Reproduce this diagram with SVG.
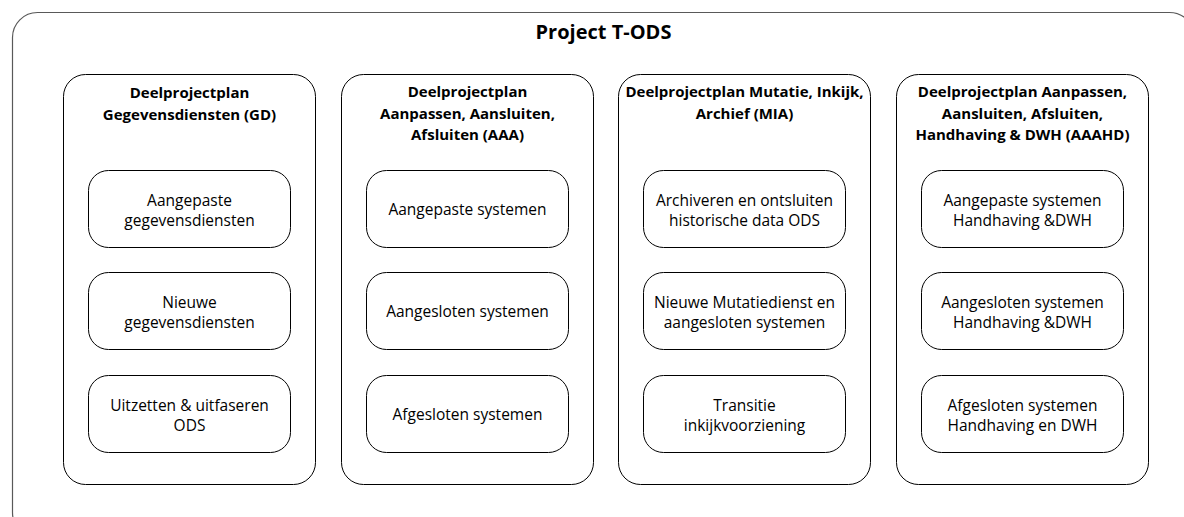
<svg xmlns="http://www.w3.org/2000/svg" width="1184" height="517" viewBox="0 0 1184 517">
<style>
.frame{fill:#fff;stroke:#595959;stroke-width:1.2}
.col{fill:#fff;stroke:#000;stroke-width:1}
.node{fill:#fff;stroke:#000;stroke-width:1}
.title{font-family:"Open Sans","Liberation Sans",sans-serif;font-weight:bold;font-size:20px;fill:#000;text-anchor:middle}
.hdr{font-family:"Open Sans","Liberation Sans",sans-serif;font-weight:bold;font-size:15px;fill:#000;text-anchor:middle}
.lbl{font-family:"Open Sans","Liberation Sans",sans-serif;font-size:15.5px;fill:#000;text-anchor:middle}
</style>
<rect width="1184" height="517" fill="#fff"/>
<g id="project">
<rect class="frame" x="12.5" y="12.5" width="1182" height="525" rx="25" ry="25"/>
<text class="title" x="603.5" y="39">Project T-ODS</text>
</g>
<g id="col-gd">
<rect class="col" x="63.5" y="74.5" width="252" height="410" rx="22" ry="22"/>
<text class="hdr" x="189.5" y="98">Deelprojectplan</text>
<text class="hdr" x="189.5" y="119.5">Gegevensdiensten (GD)</text>
</g>
<g id="gd-1"><rect class="node" x="88.5" y="170.5" width="202" height="77" rx="20" ry="20"/><text class="lbl" x="189.5" y="205.5">Aangepaste</text><text class="lbl" x="189.5" y="225.5">gegevensdiensten</text></g>
<g id="gd-2"><rect class="node" x="88.5" y="272.5" width="202" height="77" rx="20" ry="20"/><text class="lbl" x="189.5" y="307.5">Nieuwe</text><text class="lbl" x="189.5" y="327.5">gegevensdiensten</text></g>
<g id="gd-3"><rect class="node" x="88.5" y="375.5" width="202" height="77" rx="20" ry="20"/><text class="lbl" x="189.5" y="410.5">Uitzetten &amp; uitfaseren</text><text class="lbl" x="189.5" y="430.5">ODS</text></g>

<g id="col-aaa">
<rect class="col" x="341.5" y="74.5" width="252" height="410" rx="22" ry="22"/>
<text class="hdr" x="467.5" y="97">Deelprojectplan</text>
<text class="hdr" x="467.5" y="118.5">Aanpassen, Aansluiten,</text>
<text class="hdr" x="467.5" y="140">Afsluiten (AAA)</text>
</g>
<g id="aaa-1"><rect class="node" x="366.5" y="170.5" width="202" height="77" rx="20" ry="20"/><text class="lbl" x="467.5" y="214.5">Aangepaste systemen</text></g>
<g id="aaa-2"><rect class="node" x="366.5" y="272.5" width="202" height="77" rx="20" ry="20"/><text class="lbl" x="467.5" y="316.5">Aangesloten systemen</text></g>
<g id="aaa-3"><rect class="node" x="366.5" y="375.5" width="202" height="77" rx="20" ry="20"/><text class="lbl" x="467.5" y="419.5">Afgesloten systemen</text></g>

<g id="col-mia">
<rect class="col" x="618.5" y="74.5" width="252" height="410" rx="22" ry="22"/>
<text class="hdr" x="744.5" y="97">Deelprojectplan Mutatie, Inkijk,</text>
<text class="hdr" x="744.5" y="118.5">Archief (MIA)</text>
</g>
<g id="mia-1"><rect class="node" x="643.5" y="170.5" width="202" height="77" rx="20" ry="20"/><text class="lbl" x="744.5" y="205.5">Archiveren en ontsluiten</text><text class="lbl" x="744.5" y="225.5">historische data ODS</text></g>
<g id="mia-2"><rect class="node" x="643.5" y="272.5" width="202" height="77" rx="20" ry="20"/><text class="lbl" x="744.5" y="307.5">Nieuwe Mutatiedienst en</text><text class="lbl" x="744.5" y="327.5">aangesloten systemen</text></g>
<g id="mia-3"><rect class="node" x="643.5" y="375.5" width="202" height="77" rx="20" ry="20"/><text class="lbl" x="744.5" y="410.5">Transitie</text><text class="lbl" x="744.5" y="430.5">inkijkvoorziening</text></g>

<g id="col-aaahd">
<rect class="col" x="896.5" y="74.5" width="252" height="410" rx="22" ry="22"/>
<text class="hdr" x="1022.5" y="97">Deelprojectplan Aanpassen,</text>
<text class="hdr" x="1022.5" y="118.5">Aansluiten, Afsluiten,</text>
<text class="hdr" x="1022.5" y="140">Handhaving &amp; DWH (AAAHD)</text>
</g>
<g id="aaahd-1"><rect class="node" x="921.5" y="170.5" width="202" height="77" rx="20" ry="20"/><text class="lbl" x="1022.5" y="205.5">Aangepaste systemen</text><text class="lbl" x="1022.5" y="225.5">Handhaving &amp;DWH</text></g>
<g id="aaahd-2"><rect class="node" x="921.5" y="272.5" width="202" height="77" rx="20" ry="20"/><text class="lbl" x="1022.5" y="307.5">Aangesloten systemen</text><text class="lbl" x="1022.5" y="327.5">Handhaving &amp;DWH</text></g>
<g id="aaahd-3"><rect class="node" x="921.5" y="375.5" width="202" height="77" rx="20" ry="20"/><text class="lbl" x="1022.5" y="410.5">Afgesloten systemen</text><text class="lbl" x="1022.5" y="430.5">Handhaving en DWH</text></g>
<g id="connectors"></g>
</svg>
